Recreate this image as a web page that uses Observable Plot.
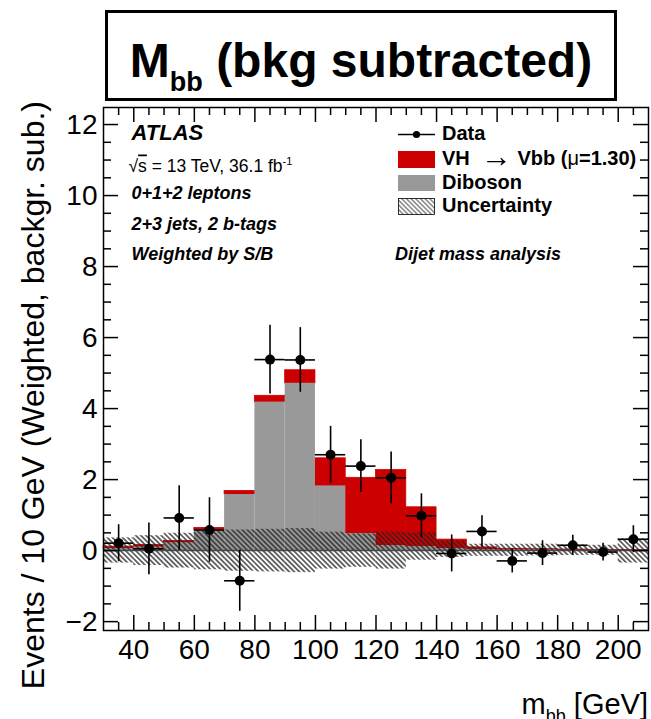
<!DOCTYPE html>
<html><head><meta charset="utf-8">
<script src="https://cdn.jsdelivr.net/npm/d3@7"></script>
<script src="https://cdn.jsdelivr.net/npm/@observablehq/plot@0.6"></script>
<style>html,body{margin:0;padding:0;background:#fff;} svg{display:block}</style>
</head><body><div id="chart"></div>
<script>
// ---- data ----
const binEdges = [30,40,50,60,70,80,90,100,110,120,130,140,150,160,170,180,190,200,210];
const diboson  = [0.06,0.10,0.22,0.58,1.58,4.18,4.71,1.82,0.48,0.14,0.11,0.06,0.03,0.02,0.02,0.01,0.01,0.01];
const vhSignal = [0.05,0.06,0.05,0.06,0.10,0.18,0.37,0.78,1.57,2.13,1.11,0.25,0.06,0.03,0.02,0.02,0.01,0.01];
const uncUp    = [0.36,0.42,0.49,0.54,0.58,0.60,0.62,0.52,0.47,0.52,0.50,0.27,0.18,0.18,0.18,0.16,0.15,0.33];
const uncDown  = [-0.35,-0.42,-0.49,-0.54,-0.58,-0.60,-0.62,-0.52,-0.47,-0.52,-0.27,-0.19,-0.16,-0.16,-0.15,-0.14,-0.13,-0.35];
const dataX    = [35,45,55,65,75,85,95,105,115,125,135,145,155,165,175,185,195,205];
const dataY    = [0.21,0.05,0.92,0.58,-0.85,5.38,5.37,2.70,2.38,2.05,0.98,-0.08,0.54,-0.29,-0.07,0.15,-0.04,0.32];
const dataErr  = [0.52,0.73,0.91,0.91,0.86,0.97,0.91,0.80,0.74,0.73,0.62,0.52,0.44,0.34,0.35,0.28,0.25,0.38];
const xMajorTicks = [40,60,80,100,120,140,160,180,200];
const xMinorTicks = [35,45,50,55,65,70,75,85,90,95,105,110,115,125,130,135,145,150,155,165,170,175,185,190,195,205];
const yMajorTicks = [-2,0,2,4,6,8,10,12];
const yMinorTicks = [-1.5,-1,-0.5,0.5,1,1.5,2.5,3,3.5,4.5,5,5.5,6.5,7,7.5,8.5,9,9.5,10.5,11,11.5];

// ---- tables built from the arrays ----
const bins = diboson.map((d, i) => ({
  x1: binEdges[i], x2: binEdges[i + 1],
  dib: d, tot: d + vhSignal[i], lo: uncDown[i], hi: uncUp[i]
}));
const points = dataX.map((x, i) => ({
  x, y: dataY[i], lo: dataY[i] - dataErr[i], hi: dataY[i] + dataErr[i],
  x1: binEdges[i], x2: binEdges[i + 1]
}));

const W = 651, H = 719, mL = 103, mR = 3, mT = 107, mB = 89;
const plotW = W - mL - mR, plotH = H - mT - mB;
const FONT = "'Liberation Sans', Arial, Helvetica, sans-serif";
const fmt = d => d < 0 ? "\u2212" + Math.abs(d) : String(d);

const svg = Plot.plot({
  width: W, height: H,
  marginLeft: mL, marginRight: mR, marginTop: mT, marginBottom: mB,
  style: {fontFamily: FONT, background: "white", color: "black"},
  x: {domain: [30, 210]},
  y: {domain: [-2.25, 12.48]},
  marks: [
    Plot.rect(bins, {x1: "x1", x2: "x2", y1: "dib", y2: "tot", fill: "#cc0000", stroke: "#cc0000", strokeWidth: 0.8}),
    Plot.rect(bins, {x1: "x1", x2: "x2", y1: 0, y2: "dib", fill: "#999999"}),
    Plot.rect(bins, {x1: "x1", x2: "x2", y1: "lo", y2: "hi", fill: "url(#hatch)"}),
    Plot.ruleY([0], {stroke: "#444", strokeWidth: 1.5}),
    Plot.ruleX(points, {x: "x", y1: "lo", y2: "hi", stroke: "black", strokeWidth: 1.6}),
    Plot.ruleY(points, {y: "y", x1: "x1", x2: "x2", stroke: "black", strokeWidth: 1.6}),
    Plot.dot(points, {x: "x", y: "y", r: 5, fill: "black", stroke: "none"}),
    // inward ticks (ROOT style)
    Plot.tickY(yMajorTicks, {y: d => d, insetRight: plotW - 15, stroke: "black", strokeWidth: 1.5}),
    Plot.tickY(yMinorTicks, {y: d => d, insetRight: plotW - 8, stroke: "black", strokeWidth: 1.5}),
    Plot.tickY(yMajorTicks, {y: d => d, insetLeft: plotW - 15, stroke: "black", strokeWidth: 1.5}),
    Plot.tickY(yMinorTicks, {y: d => d, insetLeft: plotW - 8, stroke: "black", strokeWidth: 1.5}),
    Plot.tickX(xMajorTicks, {x: d => d, insetTop: plotH - 15, stroke: "black", strokeWidth: 1.5}),
    Plot.tickX(xMinorTicks, {x: d => d, insetTop: plotH - 8, stroke: "black", strokeWidth: 1.5}),
    Plot.tickX(xMajorTicks, {x: d => d, insetBottom: plotH - 15, stroke: "black", strokeWidth: 1.5}),
    Plot.tickX(xMinorTicks, {x: d => d, insetBottom: plotH - 8, stroke: "black", strokeWidth: 1.5}),
    Plot.axisX({ticks: xMajorTicks, tickSize: 0, tickPadding: 9, fontSize: 28, label: null, tickFormat: fmt}),
    Plot.axisY({ticks: yMajorTicks, tickSize: 0, tickPadding: 6, fontSize: 28, label: null, tickFormat: fmt}),
    Plot.frame({stroke: "black", strokeWidth: 1.5})
  ]
});

const s = d3.select(svg);
const defs = s.insert("defs", ":first-child");
defs.append("pattern").attr("id", "hatch").attr("patternUnits", "userSpaceOnUse")
  .attr("width", 3.6).attr("height", 3.6).attr("patternTransform", "rotate(-45)")
  .append("line").attr("x1", 1.8).attr("y1", -1).attr("x2", 1.8).attr("y2", 5)
  .attr("stroke", "#222").attr("stroke-width", 1.3);
defs.append("pattern").attr("id", "hatchLeg").attr("patternUnits", "userSpaceOnUse")
  .attr("width", 3.3).attr("height", 3.3).attr("patternTransform", "rotate(-45)")
  .append("line").attr("x1", 1.65).attr("y1", -1).attr("x2", 1.65).attr("y2", 5)
  .attr("stroke", "#333").attr("stroke-width", 0.9);

const g = s.append("g").attr("font-family", FONT).attr("fill", "black").attr("text-anchor", "start");

// title box
g.append("rect").attr("x", 106.5).attr("y", 11.5).attr("width", 509).attr("height", 88)
  .attr("fill", "white").attr("stroke", "black").attr("stroke-width", 3);
const title = g.append("text").attr("x", 361).attr("y", 77).attr("text-anchor", "middle")
  .attr("font-weight", "bold").attr("font-size", 48);
title.append("tspan").text("M");
title.append("tspan").attr("font-size", 27).attr("dy", 14).text("bb");
title.append("tspan").attr("dy", -14).text(" (bkg subtracted)");

// axis titles
g.append("text").attr("transform", "translate(44,101) rotate(-90)").attr("text-anchor", "end")
  .attr("font-size", 32).text("Events / 10 GeV (Weighted, backgr. sub.)");
const xt = g.append("text").attr("x", 648).attr("y", 714).attr("text-anchor", "end").attr("font-size", 29);
xt.append("tspan").text("m");
xt.append("tspan").attr("font-size", 18).attr("dy", 8).text("bb");
xt.append("tspan").attr("dy", -8).text(" [GeV]");

// annotations
const bi = (x, y, size, txt) => g.append("text").attr("x", x).attr("y", y)
  .attr("font-size", size).attr("font-weight", "bold").attr("font-style", "italic").text(txt);
bi(131.5, 139.5, 22, "ATLAS");
const sq = g.append("text").attr("x", 128.5).attr("y", 171.5).attr("font-size", 17.5);
sq.append("tspan").text("\u221A");
sq.append("tspan").attr("text-decoration", "overline").text("s");
sq.append("tspan").text(" = 13 TeV, 36.1 fb");
sq.append("tspan").attr("font-size", 11).attr("dy", -7).text("-1");
bi(131.5, 198.5, 18, "0+1+2 leptons");
bi(131.5, 229.5, 18, "2+3 jets, 2 b-tags");
bi(131.5, 260, 18, "Weighted by S/B");
bi(395, 259.5, 18, "Dijet mass analysis");

// legend
const lx = 398, lw = 37, tx = 442;
g.append("line").attr("x1", lx).attr("x2", lx + lw).attr("y1", 134.5).attr("y2", 134.5)
  .attr("stroke", "black").attr("stroke-width", 1.5);
g.append("circle").attr("cx", lx + lw / 2).attr("cy", 134.5).attr("r", 3.6).attr("fill", "black");
g.append("rect").attr("x", lx).attr("y", 151).attr("width", lw).attr("height", 17).attr("fill", "#cc0000");
g.append("rect").attr("x", lx).attr("y", 175).attr("width", lw).attr("height", 16).attr("fill", "#999999");
g.append("rect").attr("x", lx + 0.5).attr("y", 198.5).attr("width", lw - 1).attr("height", 16)
  .attr("fill", "url(#hatchLeg)").attr("stroke", "black").attr("stroke-width", 0.8);
const lt = (y) => g.append("text").attr("x", tx).attr("y", y).attr("font-size", 20).attr("font-weight", "bold");
lt(139.5).text("Data");
const vh = lt(165);
vh.append("tspan").text("VH  ");
vh.append("tspan").attr("font-weight", "normal").attr("font-size", 31).attr("dy", 2).text("\u2192");
vh.append("tspan").attr("dy", -2).text(" Vbb (");
vh.append("tspan").attr("font-weight", "normal").text("\u03BC");
vh.append("tspan").text("=1.30)");
lt(188.5).text("Diboson");
lt(212).text("Uncertainty");

document.getElementById("chart").appendChild(svg);
</script>
</body></html>
